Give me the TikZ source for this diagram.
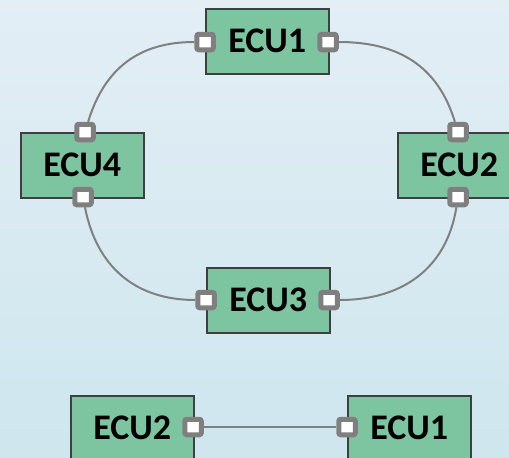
\documentclass[tikz,border=0pt]{standalone}
\usepackage{fontspec}
\setmainfont{Carlito}
\definecolor{bgtop}{HTML}{E3EEF5}
\definecolor{bgbottom}{HTML}{CEE6EE}
\definecolor{ecufill}{HTML}{7DC4A1}
\definecolor{boxedge}{HTML}{3F3F3F}
\definecolor{portgray}{HTML}{7F7F7F}
\definecolor{linkgray}{HTML}{808080}
\begin{document}
\begin{tikzpicture}[x=1pt,y=-1pt,
  ecu/.style={draw=boxedge,line width=1.5pt,fill=ecufill,minimum width=123pt,
    minimum height=65pt,inner sep=0pt,anchor=north west,
    font=\fontsize{36}{36}\selectfont\bfseries},
  port/.style={draw=portgray,line width=5pt,fill=white,rounded corners=2pt,
    minimum width=16.5pt,minimum height=15.5pt,inner sep=0pt},
  link/.style={draw=linkgray,line width=2pt,looseness=1.07}]
  % canvas
  \clip (0,0) rectangle (509,458);
  \shade[top color=bgtop,bottom color=bgbottom] (0,0) rectangle (509,458);

  % ring network
  \node[ecu] (e1) at (205,8) {ECU1};
  \node[ecu] (e2) at (397,132) {ECU2};
  \node[ecu] (e3) at (206,267) {ECU3};
  \node[ecu] (e4) at (20,132) {ECU4};

  % point-to-point link
  \node[ecu] (b2) at (70,395) {ECU2};
  \node[ecu] (b1) at (347,395) {ECU1};

  % ports on the box edges
  \coordinate (c1l) at (205,42);
  \coordinate (c1r) at (328,42);
  \coordinate (c2t) at (458,132);
  \coordinate (c2b) at (458,197);
  \coordinate (c3l) at (206,300);
  \coordinate (c3r) at (329,300);
  \coordinate (c4t) at (85,132);
  \coordinate (c4b) at (83,197);
  \coordinate (cb2) at (193,427);
  \coordinate (cb1) at (347,427);

  \foreach \p in {1l,1r,2t,2b,3l,3r,4t,4b,b2,b1}
    \path (c\p) node[port,draw=none,fill=none] (p\p) {};

  % connectors
  \draw[link] (p1l) to[out=180,in=73] (p4t);
  \draw[link] (p1r) to[out=0,in=107] (p2t);
  \draw[link] (p2b) to[out=-99,in=0] (p3r);
  \draw[link] (p3l) to[out=180,in=-79] (p4b);
  \draw[link] (pb2) -- (pb1);

  % port glyphs on top
  \foreach \p in {1l,1r,2t,2b,3l,3r,4t,4b,b2,b1}
    \node[port] at (c\p) {};
\end{tikzpicture}
\end{document}
